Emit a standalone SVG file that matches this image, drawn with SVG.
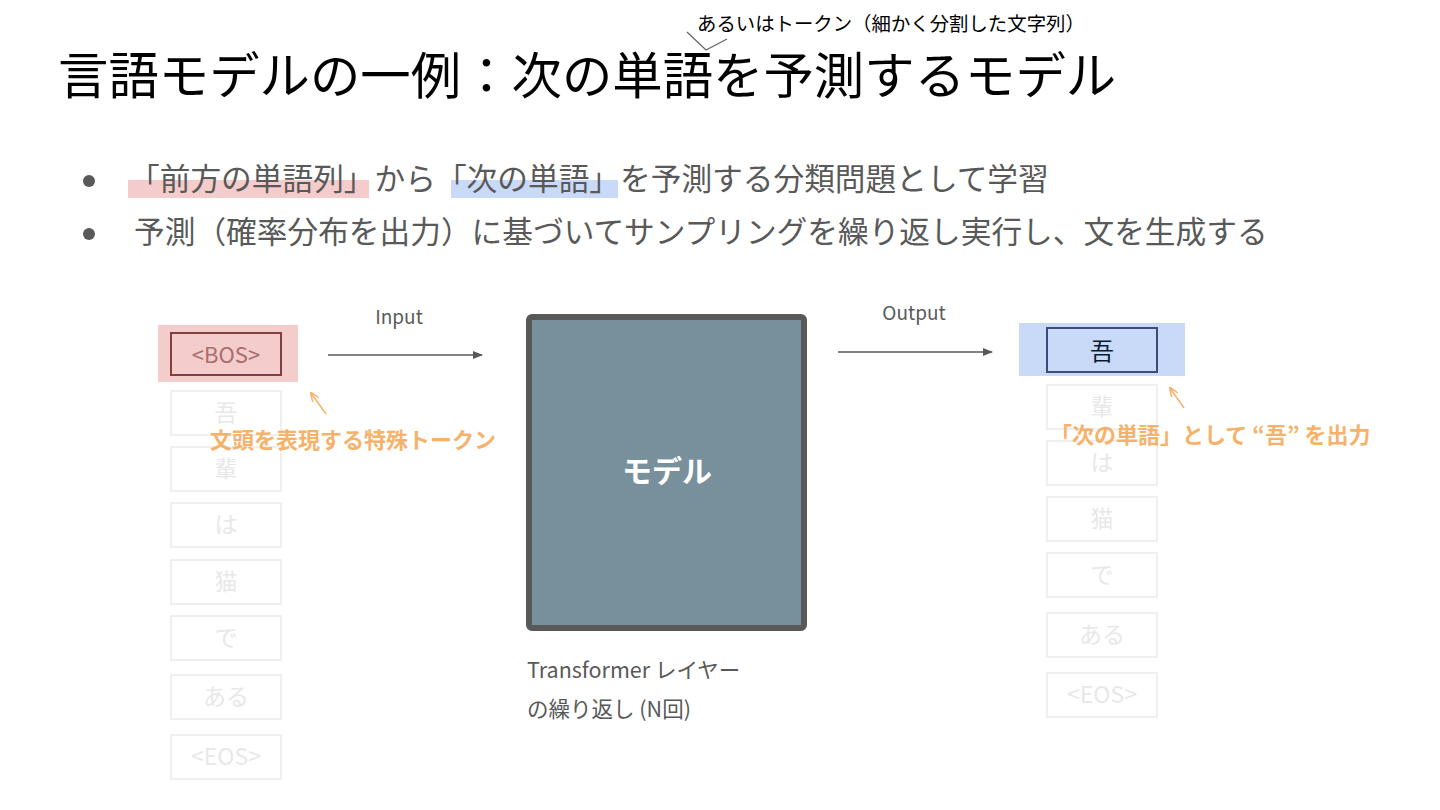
<svg xmlns="http://www.w3.org/2000/svg" width="1440" height="810" viewBox="0 0 1440 810">
<defs>
<style>
text{font-family:"Noto Sans CJK JP","Noto Sans",sans-serif}
.title{font-size:50.4px;fill:#000}
.note{font-size:19.4px;fill:#000}
.bul{font-size:30.7px;fill:#595959}
.lbl{font-size:19px;fill:#595959}
.cap{font-size:21.5px;fill:#595959}
.orn{font-size:22px;fill:#f6b26b;font-weight:bold}
.gbox{fill:#fff;stroke:#efefef;stroke-width:2}
.gtxt{font-size:23px;fill:#e8e8e8;text-anchor:middle}
.conn{stroke:#595959;stroke-width:1.5;fill:none}
.oarr{stroke:#f6b26b;stroke-width:1.5;fill:none}
</style>
<marker id="ah" markerWidth="10" markerHeight="8" refX="9" refY="4" orient="auto" markerUnits="userSpaceOnUse">
<path d="M0,0 L10,4 L0,8 Z" fill="#595959"/>
</marker>
<marker id="oh" markerWidth="10" markerHeight="8" refX="9" refY="4" orient="auto" markerUnits="userSpaceOnUse">
<path d="M0,0 L10,4 L0,8" fill="none" stroke="#f6b26b" stroke-width="1.5"/>
</marker>
</defs>
<rect width="1440" height="810" fill="#fff"/>

<g id="title">
<text class="title" x="58" y="94">言語モデルの一例：次の単語を予測するモデル</text>
<text class="note" x="697" y="31">あるいはトークン（細かく分割した文字列）</text>
<polyline points="687,32 706,50 727,39" fill="none" stroke="#666" stroke-width="1.2"/>
</g>

<g id="bullets">
<rect x="128" y="180" width="241" height="18" fill="#f4cccc"/>
<rect x="451" y="180" width="167" height="18" fill="#c9daf8"/>
<circle cx="89" cy="181" r="6" fill="#595959"/>
<circle cx="89" cy="234" r="6" fill="#595959"/>
<text class="bul" x="129" y="190">「前方の単語列」から「次の単語」を予測する分類問題として学習</text>
<text class="bul" x="134" y="243">予測（確率分布を出力）に基づいてサンプリングを繰り返し実行し、文を生成する</text>
</g>

<g id="input-tokens">
<rect x="158" y="325" width="140" height="57" fill="#f4cccc"/>
<rect x="171" y="333" width="110" height="42" fill="none" stroke="#7f4040" stroke-width="2"/>
<text x="226" y="363" font-size="22" fill="#a86d6d" text-anchor="middle">&lt;BOS&gt;</text>
<rect class="gbox" x="171" y="391" width="110" height="44"/><text class="gtxt" x="226" y="421">吾</text>
<rect class="gbox" x="171" y="447" width="110" height="44"/><text class="gtxt" x="226" y="477">輩</text>
<rect class="gbox" x="171" y="503" width="110" height="44"/><text class="gtxt" x="226" y="533">は</text>
<rect class="gbox" x="171" y="560" width="110" height="44"/><text class="gtxt" x="226" y="590">猫</text>
<rect class="gbox" x="171" y="616" width="110" height="44"/><text class="gtxt" x="226" y="646">で</text>
<rect class="gbox" x="171" y="675" width="110" height="44"/><text class="gtxt" x="226" y="705">ある</text>
<rect class="gbox" x="171" y="735" width="110" height="44"/><text class="gtxt" x="226" y="765" font-size="21">&lt;EOS&gt;</text>
</g>

<g id="model">
<rect x="529" y="317" width="275" height="311" rx="3" fill="#78909c" stroke="#595959" stroke-width="6"/>
<text x="667" y="482" font-size="30" font-weight="bold" fill="#fff" text-anchor="middle">モデル</text>
<text class="cap" x="527" y="678">Transformer レイヤー</text>
<text class="cap" x="527" y="717">の繰り返し (N回)</text>
</g>

<g id="output-tokens">
<rect x="1019" y="323" width="166" height="53" fill="#c9daf8"/>
<rect x="1047" y="328" width="110" height="44" fill="none" stroke="#3c4c75" stroke-width="2"/>
<text x="1102" y="360" font-size="24" fill="#0b1a33" text-anchor="middle">吾</text>
<rect class="gbox" x="1047" y="385" width="110" height="44"/><text class="gtxt" x="1102" y="415">輩</text>
<rect class="gbox" x="1047" y="441" width="110" height="44"/><text class="gtxt" x="1102" y="471">は</text>
<rect class="gbox" x="1047" y="497" width="110" height="44"/><text class="gtxt" x="1102" y="527">猫</text>
<rect class="gbox" x="1047" y="553" width="110" height="44"/><text class="gtxt" x="1102" y="583">で</text>
<rect class="gbox" x="1047" y="613" width="110" height="44"/><text class="gtxt" x="1102" y="643">ある</text>
<rect class="gbox" x="1047" y="673" width="110" height="44"/><text class="gtxt" x="1102" y="703" font-size="21">&lt;EOS&gt;</text>
</g>

<g id="annotations">
<text class="orn" x="210" y="448">文頭を表現する特殊トークン</text>
<text class="orn" x="1050" y="443">「次の単語」として “吾” を出力</text>
</g>

<g id="connectors">
<line class="conn" x1="328" y1="355" x2="482" y2="355" marker-end="url(#ah)"/>
<text class="lbl" x="399" y="324" text-anchor="middle">Input</text>
<line class="conn" x1="838" y1="352" x2="992" y2="352" marker-end="url(#ah)"/>
<text class="lbl" x="914" y="320" text-anchor="middle">Output</text>
<line class="oarr" x1="326" y1="414" x2="311" y2="393" marker-end="url(#oh)"/>
<line class="oarr" x1="1184" y1="408" x2="1170" y2="388" marker-end="url(#oh)"/>
</g>
</svg>
